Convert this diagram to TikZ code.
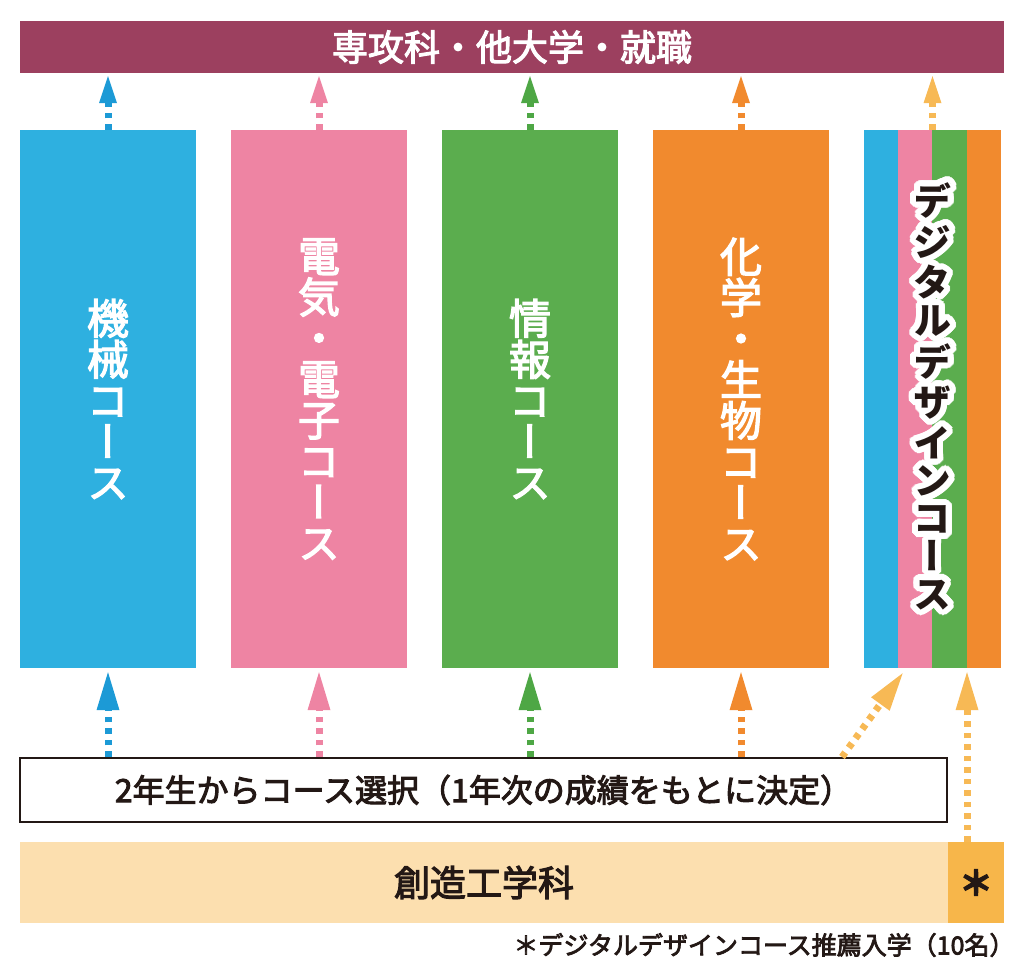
\documentclass[tikz,border=0pt]{standalone}
\usepackage{fontspec}
\setmainfont{Noto Sans CJK JP}[FakeBold=3]
\newfontfamily\tatefont[RawFeature=+vert, FakeBold=3]{Noto Sans CJK JP}
\newfontfamily\tatebold[RawFeature=+vert]{Noto Sans CJK JP}
\usepackage[copies]{contour}
\usetikzlibrary{arrows.meta,positioning,calc}

\definecolor{shinromaroon}{HTML}{9C405F}
\definecolor{kikaiblue}{HTML}{2EB0E0}
\definecolor{kikaiarrow}{HTML}{1C9AD6}
\definecolor{denkipink}{HTML}{EE84A3}
\definecolor{johogreen}{HTML}{5BAD4E}
\definecolor{johoarrow}{HTML}{4EA745}
\definecolor{kagakuorange}{HTML}{F18A2E}
\definecolor{souzoupeach}{HTML}{FCDFAF}
\definecolor{suisenyellow}{HTML}{F7B64A}
\definecolor{suisenarrow}{HTML}{F7B955}
\definecolor{sumiblack}{HTML}{231815}

\contourlength{6pt}
\contournumber{32}
\newcommand{\glowchar}[1]{\contour{white}{#1}}

\begin{document}
\begin{tikzpicture}[
        x=1pt, y=1pt,
        course/.style={minimum width=176pt, minimum height=538pt, inner sep=0pt,
            text=white, align=center, font=\tatefont\fontsize{42}{41}\selectfont},
        upline/.style={line width=7pt, dash pattern=on 5.5pt off 6pt},
        tophead/.style={upline, -{Triangle[length=27pt,width=18pt,line width=0pt]}, shorten >=3pt},
        bothead/.style={upline, -{Triangle[length=38pt,width=23pt,line width=0pt]}, shorten >=4pt}
    ]
    \useasboundingbox (0,0) rectangle (1024,976);

    \node[fill=shinromaroon, minimum width=984pt, minimum height=52pt, inner sep=0pt,
        text=white, font=\fontsize{36}{36}\selectfont] (shinro) at (512,929) {専攻科・他大学・就職};

    \node[course, fill=kikaiblue] (kikai) at (108,577) {機\\械\\コ\\ー\\ス};
    \node[course, fill=denkipink] (denki) at (319,577) {電\\気\\・\\電\\子\\コ\\ー\\ス};
    \node[course, fill=johogreen] (joho) at (530,577) {情\\報\\コ\\ー\\ス};
    \node[course, fill=kagakuorange] (kagaku) at (741,577) {化\\学\\・\\生\\物\\コ\\ー\\ス};
    \node[course, minimum width=137pt] (digital) at (932.5,577) {};
    \foreach \c [count=\i] in {kikaiblue,denkipink,johogreen,kagakuorange}
        \fill[\c] ($(digital.north west)+({34.25*(\i-1)},0)$) rectangle ++(34.25,-538);
    \node[align=center, text=sumiblack, font=\tatebold\bfseries\fontsize{38}{37.7}\selectfont] (dtext) at (digital)
        {\glowchar{デ}\\\glowchar{ジ}\\\glowchar{タ}\\\glowchar{ル}\\\glowchar{デ}\\\glowchar{ザ}\\
         \glowchar{イ}\\\glowchar{ン}\\\glowchar{コ}\\\glowchar{ー}\\\glowchar{ス}};

    \node[draw=sumiblack, line width=2pt, fill=white, minimum width=927pt, minimum height=64pt,
        text=sumiblack, font=\fontsize{32}{32}\selectfont] (sentaku) at (483.5,186)
        {2年生からコース選択（1年次の成績をもとに決定）};
    \node[fill=souzoupeach, minimum width=928pt, minimum height=81pt, text=sumiblack,
        font=\fontsize{36}{36}\selectfont] (souzou) at (484,93.5) {創造工学科};
    \node[fill=suisenyellow, minimum width=56pt, minimum height=81pt, text=sumiblack,
        font=\bfseries\fontsize{34}{34}\selectfont] (suisen) at (976,93.5) {＊};
    \node[anchor=east, text=sumiblack, font=\fontsize{25}{25}\selectfont] (chuki) at (1018,31)
        {＊デジタルデザインコース推薦入学（10名）};

    \foreach \c/\col in {kikai/kikaiarrow,denki/denkipink,joho/johoarrow,kagaku/kagakuorange} {
        \draw[tophead, \col] (\c.north) -- (\c.north |- shinro.south);
        \draw[bothead, \col] (sentaku.north -| \c.south) -- (\c.south);
    }
    \draw[tophead, suisenarrow] (digital.north) -- (digital.north |- shinro.south);

    \coordinate (nanameA) at (842,219);
    \coordinate (nanameB) at (905,306);
    \coordinate (suisenA) at (967,134);
    \draw[bothead, suisenarrow] (nanameA) -- (nanameB);
    \draw[bothead, suisenarrow] (suisenA) -- (suisenA |- digital.south);
\end{tikzpicture}
\end{document}
